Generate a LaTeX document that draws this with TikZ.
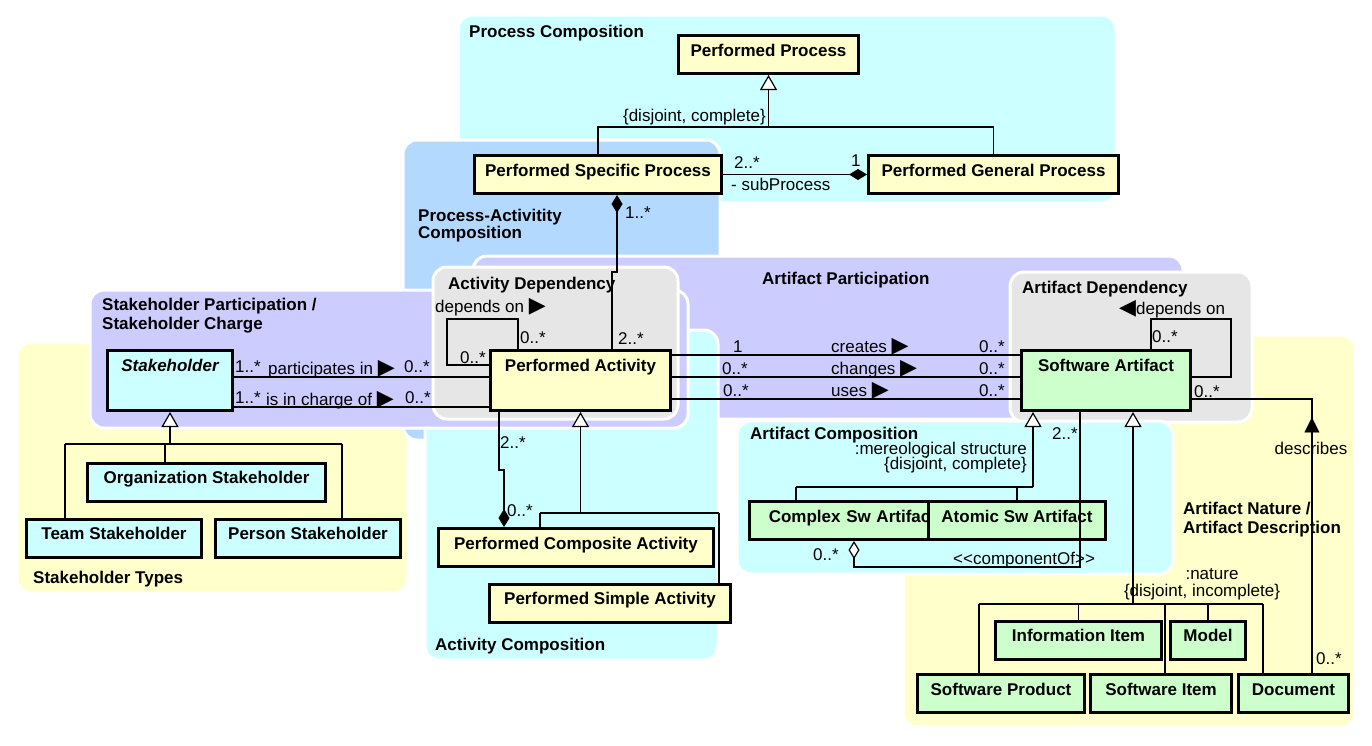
\documentclass[tikz,border=0pt]{standalone}
\usepackage{fontspec}
\setmainfont{Liberation Sans}
\newfontfamily\symfont{DejaVu Sans}
\usepackage{xcolor}
\usetikzlibrary{arrows.meta}

\definecolor{clsyellow}{HTML}{FFFFCC}
\definecolor{clscyan}{HTML}{CCFFFF}
\definecolor{clsgreen}{HTML}{CCFFCC}
\definecolor{regcyan}{HTML}{CCFFFF}
\definecolor{regyellow}{HTML}{FFFFCC}
\definecolor{regblue}{HTML}{B3D9FF}
\definecolor{reglilac}{HTML}{CCCCFF}
\definecolor{reggray}{HTML}{E6E6E6}

\newcommand{\rtri}{{\fontsize{22}{20}\symfont ▶}}
\newcommand{\ltri}{{\fontsize{22}{20}\symfont ◀}}

\begin{document}
\begin{tikzpicture}[x=1pt, y=-1pt,
  font=\fontsize{17}{20}\selectfont,
  region/.style={draw=white, line width=3pt, rounded corners=14pt},
  title/.style={anchor=base west, inner sep=0pt, font=\fontsize{17}{20}\selectfont\bfseries},
  cls/.style={draw=black, line width=3pt, inner sep=0pt, text height=20.5pt, text depth=17.5pt,
    font=\fontsize{17}{20}\selectfont\bfseries},
  tall/.style={text depth=39.5pt},
  lbl/.style={anchor=base west, inner sep=0pt},
  conn/.style={line width=1.2pt},
  gen/.style={conn, -{Triangle[fill=white, length=15pt, width=17pt, line width=1.2pt]}},
  comp/.style={conn, {Diamond[length=18pt, width=11pt]}-},
  agg/.style={conn, {Diamond[fill=white, length=18pt, width=11pt, line width=1.2pt]}-}]
\useasboundingbox (0,0) rectangle (1372,745);

% Regions, back to front
\draw[region, fill=regyellow] (903,335) rectangle (1355,727);
\draw[region, fill=regcyan] (458,15) rectangle (1116,203);
\draw[region, fill=regyellow] (17,342) rectangle (408,593);
\draw[region, fill=regblue] (403,140) rectangle (720,440);
\draw[region, fill=reglilac] (473,256) rectangle (1183,419);
\draw[region, fill=regcyan] (425,330) rectangle (718,660);
\draw[region, fill=reglilac] (90,290) rectangle (688,428);
\draw[region, fill=reggray] (433,267) rectangle (678,419);
\draw[region, fill=reggray] (1010,272) rectangle (1252,422);
\draw[region, fill=regcyan] (737,421) rectangle (1173,574);

% Region titles
\node[title] (tproc) at (469,37) {Process Composition};
\node[title] (tpact) at (418,221) {Process-Activitity};
\node[title] (tpact2) at (418,238) {Composition};
\node[title] (tstpart) at (102,310) {Stakeholder Participation /};
\node[title] (tstpart2) at (102,329) {Stakeholder Charge};
\node[title] (tsttype) at (33,583) {Stakeholder Types};
\node[title] (tactdep) at (448,289) {Activity Dependency};
\node[title] (tartpart) at (762,284) {Artifact Participation};
\node[title] (tartdep) at (1022,293) {Artifact Dependency};
\node[title] (tartcomp) at (750,439) {Artifact Composition};
\node[title] (tactcomp) at (435,650) {Activity Composition};

% Classes
\node[cls, fill=clsyellow, minimum width=180pt] (pp) at (768.5,54.5) {Performed Process};
\node[cls, fill=clsyellow, minimum width=247pt] (psp) at (598,174.5) {Performed Specific Process};
\node[cls, fill=clsyellow, minimum width=250pt] (pgp) at (993.5,174.5) {Performed General Process};

\node[cls, tall, fill=clscyan, minimum width=125pt] (sh) at (170,380.5) {\itshape Stakeholder};
\node[cls, fill=clscyan, minimum width=238pt] (org) at (206.5,482) {Organization Stakeholder};
\node[cls, fill=clscyan, minimum width=175pt] (team) at (114,538) {Team Stakeholder};
\node[cls, fill=clscyan, minimum width=185pt] (person) at (308,538) {Person Stakeholder};

\node[cls, tall, fill=clsyellow, minimum width=180pt] (pa) at (580.5,380.5) {Performed Activity};
\node[cls, fill=clsyellow, minimum width=275pt] (pca) at (576,547.5) {Performed Composite Activity};
\node[cls, fill=clsyellow, minimum width=241pt] (psa) at (610,603) {Performed Simple Activity};

\node[cls, tall, fill=clsgreen, minimum width=169pt] (sa) at (1106,380.5) {Software Artifact};
\node[cls, fill=clsgreen, text width=187pt, align=right] (csa) at (842.5,520.5) {Complex Sw Artifact};
\node[cls, fill=clsgreen, minimum width=177pt] (asa) at (1017,520.5) {Atomic Sw Artifact};
\node[cls, fill=clsgreen, minimum width=166pt] (ii) at (1078.5,640) {Information Item};
\node[cls, fill=clsgreen, minimum width=75pt] (model) at (1208,640) {Model};
\node[cls, fill=clsgreen, minimum width=167pt] (sp) at (1001,693.5) {Software Product};
\node[cls, fill=clsgreen, minimum width=141pt] (si) at (1161,693.5) {Software Item};
\node[cls, fill=clsgreen, minimum width=110pt] (doc) at (1293.5,693.5) {Document};

% Process composition
\coordinate (gpp) at (768.5,127);
\draw[conn] (psp.north) |- (gpp);
\draw[conn] (pgp.north) |- (gpp);
\draw[gen] (gpp) -- (pp.south);
\draw[comp] (pgp.west) -- (psp.east);
\node[lbl, anchor=base east] (pcset) at (766,121) {\{disjoint, complete\}};
\node[lbl] (m1) at (734,168) {2..*};
\node[lbl] (m2) at (851,166) {1};
\node[lbl] (subp) at (731,190) {- subProcess};

% Process-activity composition
\draw[comp] ([xshift=19pt]psp.south) -- ++(0,77) -| ([xshift=31.5pt]pa.north);
\node[lbl] (m3) at (625,218) {1..*};
\node[lbl] (m4) at (618,344) {2..*};

% Activity dependency
\coordinate (aloop) at (447,319);
\draw[conn] ([xshift=-62.5pt]pa.north) |- (aloop) |- ([yshift=15.5pt]pa.west);
\node[lbl] (adep) at (435,312) {depends on \rtri};
\node[lbl] (m5) at (520,343) {0..*};
\node[lbl] (m6) at (460,363) {0..*};

% Stakeholder participation / charge
\draw[conn] ([yshift=3.5pt]sh.east) -- ([yshift=3.5pt]pa.west);
\draw[conn] ([yshift=-26.5pt]sh.east) -- ([yshift=-26.5pt]pa.west);
\node[lbl] (m7) at (235,372) {1..*};
\node[lbl] (part) at (268,374) {participates in \rtri};
\node[lbl] (m8) at (404,372) {0..*};
\node[lbl] (m9) at (235,403) {1..*};
\node[lbl] (charge) at (266,405) {is in charge of \rtri};
\node[lbl] (m10) at (405,403) {0..*};

% Stakeholder types
\coordinate (gsh) at (170,444);
\coordinate (shl) at (65,444);
\coordinate (sho) at (165,444);
\coordinate (shr) at (342,444);
\draw[gen] (gsh) -- (sh.south);
\draw[conn] (shl) -- (shr);
\draw[conn] (shl) -- (shl |- team.north);
\draw[conn] (sho) -- (sho |- org.north);
\draw[conn] (shr) -- (shr |- person.north);

% Artifact participation
\draw[conn] ([yshift=25.5pt]pa.east) -- ([yshift=25.5pt]sa.west);
\draw[conn] ([yshift=3.5pt]pa.east) -- ([yshift=3.5pt]sa.west);
\draw[conn] ([yshift=-18.5pt]pa.east) -- ([yshift=-18.5pt]sa.west);
\node[lbl] (m11) at (733,352) {1};
\node[lbl] (creates) at (831,352) {creates \rtri};
\node[lbl] (m12) at (979,352) {0..*};
\node[lbl] (m13) at (722,374) {0..*};
\node[lbl] (changes) at (831,374) {changes \rtri};
\node[lbl] (m14) at (979,374) {0..*};
\node[lbl] (m15) at (723,396) {0..*};
\node[lbl] (uses) at (831,396) {uses \rtri};
\node[lbl] (m16) at (979,396) {0..*};

% Activity composition
\coordinate (gpa) at (580.5,513);
\coordinate (pal) at (540,513);
\coordinate (par) at (719,513);
\draw[gen] (gpa) -- (pa.south);
\draw[conn] (pal) -- (par);
\draw[conn] (pal) -- (pal |- pca.north);
\draw[conn] (par) -- (par |- psa.north);
\draw[comp] ([xshift=-72pt]pca.north) -- ++(0,-57) -| ([xshift=-81.5pt]pa.south);
\node[lbl] (m17) at (500,448) {2..*};
\node[lbl] (m18) at (507,516) {0..*};

% Artifact dependency
\coordinate (sloop) at (1231,319);
\draw[conn] ([xshift=45pt]sa.north) |- (sloop) |- ([yshift=3.5pt]sa.east);
\node[lbl] (sdep) at (1119,314) {\ltri depends on};
\node[lbl] (m19) at (1152,342) {0..*};

% Artifact composition
\coordinate (gmer) at (1033,487);
\coordinate (mcx) at (796,487);
\draw[gen] (gmer) -- ([xshift=-73pt]sa.south);
\draw[conn] (mcx) -- (gmer);
\draw[conn] (mcx) -- (mcx |- csa.north);
\draw[conn] (asa.north) -- (asa.north |- gmer);
\node[lbl, anchor=base east] (mer) at (1027,454) {:mereological structure};
\node[lbl, anchor=base east] (merset) at (1027,469) {\{disjoint, complete\}};
\draw[agg] ([xshift=11.5pt]csa.south) -- ++(0,26) -| ([xshift=-26pt]sa.south);
\node[lbl] (m20) at (1052,439) {2..*};
\node[lbl] (m21) at (813,560) {0..*};
\node[lbl] (compof) at (953,564) {<{}<componentOf>{}>};

% Artifact nature / description
\node[title] (tartnat) at (1183,514) {Artifact Nature /};
\node[title] (tartnat2) at (1183,533) {Artifact Description};
\coordinate (gnat) at (1133,604);
\coordinate (natl) at (979,604);
\coordinate (nsi) at (1165,604);
\coordinate (natr) at (1263,604);
\draw[gen, line width=2.5pt] (gnat) -- ([xshift=27pt]sa.south);
\draw[conn] (natl) -- (natr);
\draw[conn] (natl) -- (natl |- sp.north);
\draw[conn] (ii.north) -- (ii.north |- gnat);
\draw[conn] (nsi) -- (nsi |- si.north);
\draw[conn] (model.north) -- (model.north |- gnat);
\draw[conn] (natr) -- (natr |- doc.north);
\node[lbl, anchor=base] (nat) at (1212,579) {:nature};
\node[lbl, anchor=base] (natset) at (1202,596) {\{disjoint, incomplete\}};

\draw[conn] ([yshift=-18.5pt]sa.east) -| ([xshift=18.5pt]doc.north);
\node[inner sep=0pt] (descmark) at (1312,425) {{\fontsize{20}{20}\symfont ▲}};
\node[lbl, anchor=base] (desc) at (1311,454) {describes};
\node[lbl] (m22) at (1194,397) {0..*};
\node[lbl] (m23) at (1316,664) {0..*};
\end{tikzpicture}
\end{document}
